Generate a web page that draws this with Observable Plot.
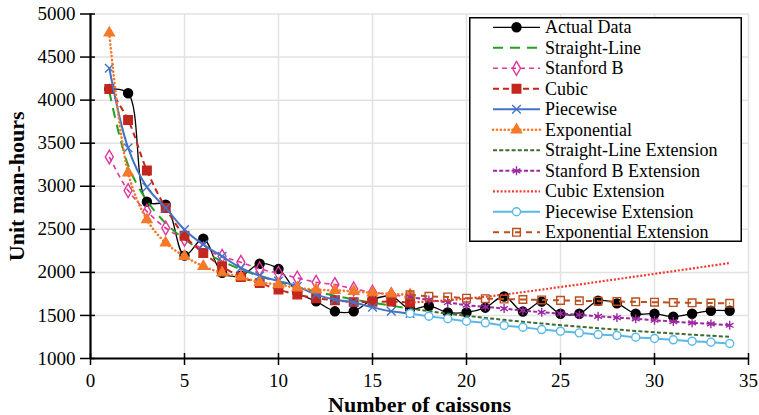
<!DOCTYPE html>
<html><head><meta charset="utf-8">
<script src="https://cdn.jsdelivr.net/npm/d3@7"></script>
<script src="https://cdn.jsdelivr.net/npm/@observablehq/plot@0.6"></script>
<style>
body{margin:0;background:#fff;}
#chart{position:relative;width:759px;height:415px;font-family:"Liberation Serif","DejaVu Serif",serif;}
#chart svg, #chart text{font-family:"Liberation Serif","DejaVu Serif",serif !important;}
#legend{position:absolute;left:469px;top:17px;}
</style>
</head><body><div id="chart"></div>
<script>
// ---- data ----
const caissons = [1,2,3,4,5,6,7,8,9,10,11,12,13,14,15,16,17,18,19,20,21,22,23,24,25,26,27,28,29,30,31,32,33,34];
const actualData = [4130,4080,2820,2785,2195,2390,1995,1960,2100,2040,1770,1665,1548,1548,1684,1722,1575,1610,1535,1535,1590,1720,1545,1660,1520,1520,1670,1640,1520,1520,1485,1520,1555,1555];

const fitCaissons = [1,2,3,4,5,6,7,8,9,10,11,12,13,14,15,16,17];
const straightLine = [4100,3246,2833,2570,2385,2243,2130,2035,1957,1889,1829,1777,1729,1686,1648,1613,1580];
const stanfordB = [3340,2950,2708,2515,2385,2270,2186,2117,2040,1990,1935,1885,1858,1808,1770,1740,1715];
const cubic = [4130,3770,3183,2748,2426,2225,2071,1947,1875,1800,1742,1700,1676,1655,1658,1660,1650];
const piecewise = [4370,3446,2990,2748,2496,2322,2186,2051,1960,1900,1838,1742,1684,1650,1595,1548,1522];
const exponential = [4780,3157,2612,2342,2186,2071,1994,1947,1885,1858,1820,1800,1790,1780,1762,1750,1740];

const extCaissons = [17,18,19,20,21,22,23,24,25,26,27,28,29,30,31,32,33,34];
const straightLineExt = [1580,1550,1522,1496,1471,1449,1427,1407,1387,1369,1352,1336,1320,1305,1291,1277,1264,1251];
const stanfordBExt = [1715,1680,1650,1620,1599,1580,1557,1537,1522,1507,1490,1475,1460,1444,1429,1414,1402,1386];
const cubicExt = [1650,1662,1677,1695,1717,1742,1771,1800,1830,1860,1890,1921,1952,1983,2014,2045,2077,2108];
const piecewiseExt = [1522,1490,1462,1432,1414,1383,1363,1336,1317,1298,1278,1267,1247,1232,1217,1201,1189,1174];
const exponentialExt = [1740,1722,1715,1700,1695,1690,1685,1680,1675,1670,1666,1662,1658,1654,1650,1647,1644,1641];

const seriesNames = ["Actual Data","Straight-Line","Stanford B","Cubic","Piecewise","Exponential",
  "Straight-Line Extension","Stanford B Extension","Cubic Extension","Piecewise Extension","Exponential Extension"];
const xTicks = [0,5,10,15,20,25,30,35];
const yTicks = [1000,1500,2000,2500,3000,3500,4000,4500,5000];

// ---- styling per series ----
const styles = [
  {xs: caissons, ys: actualData, stroke:"#000000", sw:1.3, dash:null, symbol:"circle", r:4.5, fill:"#000000", mstroke:"#000000"},
  {xs: fitCaissons, ys: straightLine, stroke:"#22a022", sw:2, dash:"10,7", symbol:null},
  {xs: fitCaissons, ys: stanfordB, stroke:"#e0359b", sw:1.6, dash:"5,4", symbol:"diamond", r:4.2, fill:"none", mstroke:"#e0359b"},
  {xs: fitCaissons, ys: cubic, stroke:"#c3261c", sw:2, dash:"6,4", symbol:"square", r:4.8, fill:"#c3261c", mstroke:"#c3261c"},
  {xs: fitCaissons, ys: piecewise, stroke:"#4472c4", sw:2, dash:null, symbol:"times", r:4, fill:"none", mstroke:"#4472c4"},
  {xs: fitCaissons, ys: exponential, stroke:"#f4792a", sw:2.6, dash:"0.1,3.8", cap:"round", symbol:"triangle", r:3.8, fill:"#f4792a", mstroke:"#f4792a"},
  {xs: extCaissons, ys: straightLineExt, stroke:"#3e6b2e", sw:2, dash:"4,2.2", symbol:null},
  {xs: extCaissons, ys: stanfordBExt, stroke:"#9c27a0", sw:2, dash:"4,2.2", symbol:"asterisk", r:4.2, fill:"none", mstroke:"#9c27a0"},
  {xs: extCaissons, ys: cubicExt, stroke:"#ee3b2e", sw:2.2, dash:"2,1.8", symbol:null},
  {xs: extCaissons, ys: piecewiseExt, stroke:"#5ab8e6", sw:2, dash:null, symbol:"circle", r:4, fill:"white", mstroke:"#5ab8e6"},
  {xs: extCaissons, ys: exponentialExt, stroke:"#b9501e", sw:2, dash:"6,5", symbol:"square", r:4.3, fill:"none", mstroke:"#b9501e"}
];

const seriesMarks = [];
styles.forEach((s, k) => {
  const rows = s.xs.map((x, i) => ({x, y: s.ys[i], name: seriesNames[k]}));
  seriesMarks.push(Plot.line(rows, {x:"x", y:"y", stroke: s.stroke, strokeWidth: s.sw,
    strokeDasharray: s.dash || undefined, strokeLinecap: s.cap || "butt", curve: "catmull-rom"}));
  if (s.symbol) {
    seriesMarks.push(Plot.dot(rows, {x:"x", y:"y", symbol: s.symbol, r: s.r, fill: s.fill,
      stroke: s.mstroke, strokeWidth: 1.4}));
  }
});

const fmt = d => String(d);
const chart = Plot.plot({
  width: 759, height: 415,
  marginLeft: 90, marginRight: 11, marginTop: 13.5, marginBottom: 57,
  style: {fontFamily: "Liberation Serif, DejaVu Serif, serif", fontSize: "19px", color: "#000", background: "#fff", overflow: "visible"},
  x: {domain: [0, 35]},
  y: {domain: [1000, 5000]},
  marks: [
    Plot.gridX(xTicks, {stroke: "#e2e2e2", strokeOpacity: 1, strokeWidth: 1.5}),
    Plot.gridY(yTicks, {stroke: "#e2e2e2", strokeOpacity: 1, strokeWidth: 1.5}),
    ...seriesMarks,
    Plot.axisX(xTicks, {tickSize: 12, dy: -5, tickFormat: () => "", label: null, strokeWidth: 1.5}),
    Plot.axisX(xTicks, {tickSize: 0, tickPadding: 15, label: null, fontSize: 19, tickFormat: fmt}),
    Plot.axisY(yTicks, {tickSize: 15, dx: 5, tickFormat: () => "", label: null, strokeWidth: 1.5}),
    Plot.axisY(yTicks, {tickSize: 0, tickPadding: 15, label: null, fontSize: 19, tickFormat: fmt}),
    Plot.ruleX([0], {stroke: "#000", strokeWidth: 2.2}),
    Plot.ruleY([1000], {stroke: "#000", strokeWidth: 2.2}),
    Plot.text(["Number of caissons"], {text: d => d, frameAnchor: "bottom", dy: 46, fontSize: 22, fontWeight: "bold", lineAnchor: "middle"}),
    Plot.text(["Unit man-hours"], {text: d => d, frameAnchor: "left", dx: -74, rotate: -90, textAnchor: "middle", fontSize: 22, fontWeight: "bold", lineAnchor: "middle"})
  ]
});
document.getElementById("chart").appendChild(chart);

// ---- legend ----
const symbolMap = {circle: d3.symbolCircle, square: d3.symbolSquare, diamond: d3.symbolDiamond,
  triangle: d3.symbolTriangle, times: d3.symbolTimes, asterisk: d3.symbolAsterisk};
const lw = 273, lh = 225;
const legend = d3.create("svg").attr("id", "legend").attr("width", lw).attr("height", lh);
legend.append("rect").attr("x", 0.75).attr("y", 0.75).attr("width", lw - 1.5).attr("height", lh - 1.5)
  .attr("fill", "#fff").attr("stroke", "#000").attr("stroke-width", 1.5);
styles.forEach((s, i) => {
  const cy = 10.3 + i * 20.5;
  legend.append("line").attr("x1", 24).attr("x2", 71).attr("y1", cy).attr("y2", cy)
    .attr("stroke", s.stroke).attr("stroke-width", s.sw)
    .attr("stroke-dasharray", s.dash || null).attr("stroke-linecap", s.cap || "butt");
  if (s.symbol) {
    legend.append("path").attr("transform", `translate(47.5,${cy})`)
      .attr("d", d3.symbol(symbolMap[s.symbol], Math.PI * s.r * s.r)())
      .attr("fill", s.fill).attr("stroke", s.mstroke).attr("stroke-width", 1.4);
  }
  legend.append("text").attr("x", 76).attr("y", cy + 6).attr("font-size", 18).attr("fill", "#000")
    .text(seriesNames[i]);
});
document.getElementById("chart").appendChild(legend.node());
</script></body></html>
